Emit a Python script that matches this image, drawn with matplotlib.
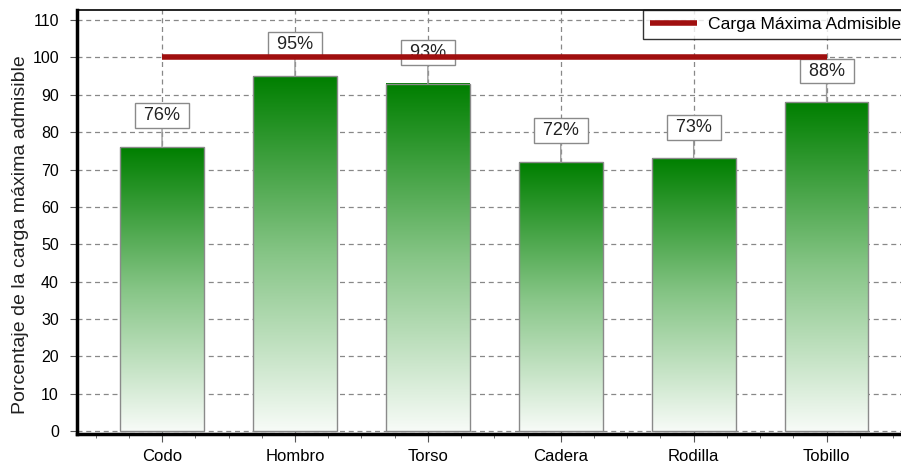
import numpy as np
import matplotlib
matplotlib.use("Agg")
import matplotlib.pyplot as plt
from matplotlib.colors import LinearSegmentedColormap
from matplotlib.ticker import MultipleLocator

plt.rcParams['font.family'] = ['Liberation Sans', 'DejaVu Sans']

categories = ["Codo", "Hombro", "Torso", "Cadera", "Rodilla", "Tobillo"]
porcentajes = [76, 95, 93, 72, 73, 88]
carga_maxima = [100, 100, 100, 100, 100, 100]
y_ticks = list(range(0, 111, 10))

fig = plt.figure(figsize=(9.01, 4.68), dpi=100)
ax = fig.add_axes([77 / 901, 1 - 434 / 468, 1 - 77 / 901, (434 - 10) / 468])

x = np.arange(len(categories))
bar_w = 0.63

# vertical green gradient: white at the base, dark green at the top
cmap = LinearSegmentedColormap.from_list(
    "verde", [(0.0, "#f7fbf7"), (0.5, "#86c586"), (1.0, "#007f00")])
grad = np.linspace(0, 1, 256).reshape(-1, 1)

bars = ax.bar(x, porcentajes, width=bar_w, color="none", edgecolor="#8a8a8a",
              linewidth=1.0, zorder=3)
for b in bars:
    x0, w, h = b.get_x(), b.get_width(), b.get_height()
    ax.imshow(grad, cmap=cmap, origin="lower", aspect="auto",
              extent=(x0, x0 + w, 0, h), zorder=2, interpolation="bilinear")

# value labels in boxes with a leader line
for xi, v in zip(x, porcentajes):
    ax.annotate(f" {v}% ", xy=(xi, v), xytext=(0, 22.5), textcoords="offset points",
                ha="center", va="center", fontsize=13, color="#222222",
                bbox=dict(boxstyle="square,pad=0.22", fc="white", ec="#8a8a8a", lw=1.0),
                arrowprops=dict(arrowstyle="-", color="#9a9a9a", lw=1.0,
                                shrinkA=0, shrinkB=0),
                zorder=4)

ax.plot(x, carga_maxima, color="#a00f0f", lw=4, solid_capstyle="butt",
        label="Carga Máxima Admisible", zorder=5)

ax.set_xlim(-0.64, 5.56)
ax.set_ylim(-0.8, 112.7)
ax.set_xticks(x)
ax.set_xticklabels(categories, fontsize=12)
ax.xaxis.set_minor_locator(MultipleLocator(0.25))
ax.set_yticks(y_ticks)
ax.tick_params(axis="y", labelsize=11.5, length=5, color="#555555", pad=8)
ax.tick_params(axis="x", which="major", length=6, color="#555555", pad=5)
ax.tick_params(axis="x", which="minor", length=3, color="#555555")

ax.grid(True, which="major", linestyle=(0, (4, 3)), color="#888888", lw=0.9, zorder=0)
ax.set_axisbelow(True)

for side in ("left", "bottom"):
    ax.spines[side].set_linewidth(2.5)
    ax.spines[side].set_color("black")
ax.spines["top"].set_linewidth(1.2)
ax.spines["right"].set_visible(False)

ax.set_ylabel("Porcentaje de la carga máxima admisible", fontsize=14, color="#222222")
ax.yaxis.set_label_coords(29 / 901, 233 / 468, transform=fig.transFigure)

leg = ax.legend(loc="upper left", bbox_to_anchor=(643 / 901, 1 - 10 / 468),
                bbox_transform=fig.transFigure, borderaxespad=0, fontsize=12.6,
                frameon=True, fancybox=False, handlelength=2.7, handletextpad=0.6,
                borderpad=0.4)
leg.get_frame().set_edgecolor("black")
leg.get_frame().set_linewidth(1.0)
leg.set_zorder(6)

fig.savefig("out.png", dpi=100)
